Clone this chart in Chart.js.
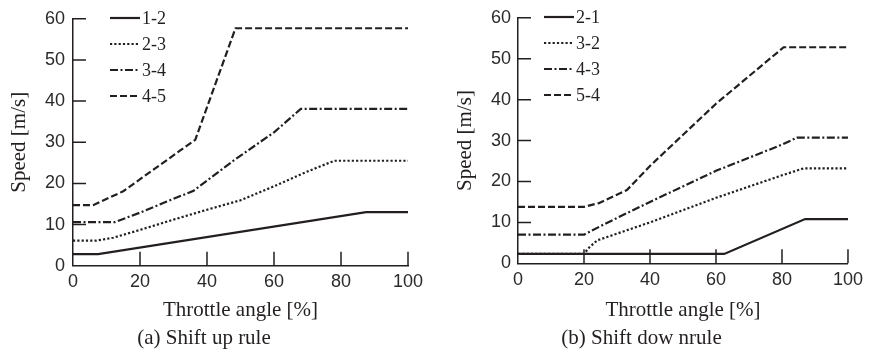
<!DOCTYPE html>
<html>
<head>
<meta charset="utf-8">
<script src="https://cdn.jsdelivr.net/npm/chart.js@4"></script>
<style>
  html, body { margin: 0; padding: 0; background: #fff; }
  .panel { position: absolute; top: 0; }
</style>
</head>
<body>
<div class="panel" style="left:0"><canvas id="upChart" width="430" height="357"></canvas></div>
<div class="panel" style="left:430px"><canvas id="downChart" width="439" height="357"></canvas></div>
<script>
// shift-up curves: throttle [%] vs speed [m/s]
const up12X = [0, 7.5, 87.5, 100];
const up12Y = [2.8, 2.8, 13, 13];
const up23X = [0, 7, 12, 20, 30, 40, 50, 60, 70, 78, 100];
const up23Y = [6.1, 6.1, 6.8, 8.7, 11.2, 13.6, 15.9, 19.3, 22.9, 25.5, 25.5];
const up34X = [0, 12.5, 20, 28, 36, 48, 60, 68, 100];
const up34Y = [10.6, 10.6, 12.9, 15.6, 18.2, 25.6, 32.4, 38.1, 38.1];
const up45X = [0, 6, 15, 36.5, 48.5, 100];
const up45Y = [14.7, 14.7, 18.1, 30.6, 57.7, 57.7];

// shift-down curves
const dn21X = [0, 62.5, 87, 100];
const dn21Y = [2.3, 2.3, 10.8, 10.8];
const dn32X = [0, 20, 21.5, 24, 40, 60, 80, 86.5, 100];
const dn32Y = [2.3, 2.3, 3.8, 5.6, 10, 16, 21.5, 23.2, 23.2];
const dn43X = [0, 20, 26, 40, 60, 80, 84.5, 100];
const dn43Y = [7, 7, 9.5, 15, 22.6, 29, 30.7, 30.7];
const dn54X = [0, 20, 24.5, 33, 40, 60, 80.5, 100];
const dn54Y = [13.8, 13.8, 14.7, 17.9, 23.8, 39, 52.8, 52.8];

const upLabels = ['1-2', '2-3', '3-4', '4-5'];
const downLabels = ['2-1', '3-2', '4-3', '5-4'];
const xTicks = [0, 20, 40, 60, 80, 100];
const yTicks = [0, 10, 20, 30, 40, 50, 60];

const INK = '#231f20';
const SANS = "'Liberation Sans', Arial, sans-serif";
const SERIF = "'Liberation Serif', 'Times New Roman', serif";
const DASHES = [[], [2.2, 2.1], [8, 2.5, 2, 2.5], [7, 3]];

function pairs(xs, ys) {
  return xs.map((x, i) => ({ x: x, y: ys[i] }));
}

function series(labels, xsList, ysList) {
  return labels.map((label, i) => ({
    label: label,
    data: pairs(xsList[i], ysList[i]),
    borderColor: INK,
    borderWidth: 2.2,
    borderDash: DASHES[i],
    pointRadius: 0,
    tension: 0,
    fill: false
  }));
}

// tick marks pointing into the plot area
const inwardTicks = {
  id: 'inwardTicks',
  afterDatasetsDraw(chart) {
    const { ctx, chartArea: a, scales: { x, y } } = chart;
    ctx.save();
    ctx.strokeStyle = INK;
    ctx.lineWidth = 1.5;
    ctx.beginPath();
    x.ticks.forEach(t => {
      if (t.value === x.min) return;
      const px = x.getPixelForValue(t.value);
      ctx.moveTo(px, a.bottom);
      ctx.lineTo(px, a.bottom - 14);
    });
    y.ticks.forEach(t => {
      if (t.value === y.min) return;
      const py = y.getPixelForValue(t.value);
      ctx.moveTo(a.left, py);
      ctx.lineTo(a.left + 13, py);
    });
    ctx.stroke();
    ctx.restore();
  }
};

// small legend in the top-left corner: line sample + label
const lineLegend = {
  id: 'lineLegend',
  afterDatasetsDraw(chart, args, opts) {
    const ctx = chart.ctx;
    ctx.save();
    ctx.font = '18px ' + SERIF;
    ctx.fillStyle = INK;
    ctx.textBaseline = 'middle';
    chart.data.datasets.forEach((ds, i) => {
      const yy = opts.top + i * opts.gap;
      ctx.strokeStyle = ds.borderColor;
      ctx.lineWidth = ds.borderWidth;
      ctx.setLineDash(ds.borderDash);
      ctx.beginPath();
      ctx.moveTo(opts.left, yy);
      ctx.lineTo(opts.left + 30, yy);
      ctx.stroke();
      ctx.fillText(ds.label, opts.left + 32, yy + 1);
    });
    ctx.restore();
  }
};

function makeChart(id, datasets, caption, geo) {
  return new Chart(document.getElementById(id), {
    type: 'line',
    data: { datasets: datasets },
    plugins: [inwardTicks, lineLegend],
    options: {
      responsive: false,
      animation: false,
      layout: { padding: { top: geo.top, right: geo.right, left: 0, bottom: 0 } },
      scales: {
        x: {
          type: 'linear',
          min: 0,
          max: 100,
          afterBuildTicks: s => { s.ticks = xTicks.map(v => ({ value: v })); },
          afterFit: s => { s.height = geo.xHeight; },
          grid: { display: false, drawTicks: false },
          border: { display: true, color: INK, width: 1.5 },
          ticks: { color: '#2a2a2a', padding: 6, font: { family: SANS, size: 18 } },
          title: {
            display: true,
            text: 'Throttle angle [%]',
            color: INK,
            padding: { top: 0, bottom: 2.8 },
            font: { family: SERIF, size: 21 }
          }
        },
        y: {
          min: 0,
          max: 60,
          afterBuildTicks: s => { s.ticks = yTicks.map(v => ({ value: v })); },
          afterFit: s => { s.width = geo.yWidth; },
          grid: { display: false, drawTicks: false },
          border: { display: true, color: INK, width: 1.5 },
          ticks: { color: '#2a2a2a', padding: geo.yPad, font: { family: SANS, size: 18 } },
          title: {
            display: true,
            text: 'Speed [m/s]',
            color: INK,
            padding: { top: geo.yTitle, bottom: 0 },
            font: { family: SERIF, size: 21 }
          }
        }
      },
      plugins: {
        legend: { display: false },
        tooltip: { enabled: false },
        title: {
          display: true,
          position: 'bottom',
          text: caption,
          color: INK,
          padding: { top: 0, bottom: 6.4 },
          font: { family: SERIF, size: 21, weight: 'normal' }
        },
        lineLegend: geo.legend
      }
    }
  });
}

makeChart('upChart',
  series(upLabels, [up12X, up23X, up34X, up45X], [up12Y, up23Y, up34Y, up45Y]),
  '(a) Shift up rule',
  { top: 15, right: 22, xHeight: 59.7, yWidth: 73, yPad: 8, yTitle: 6.9,
    legend: { left: 110, top: 18, gap: 26 } });

makeChart('downChart',
  series(downLabels, [dn21X, dn32X, dn43X, dn54X], [dn21Y, dn32Y, dn43Y, dn54Y]),
  '(b) Shift dow nrule',
  { top: 12, right: 16, xHeight: 62.1, yWidth: 88, yPad: 7, yTitle: 22.9,
    legend: { left: 114, top: 17, gap: 26 } });
</script>
</body>
</html>
